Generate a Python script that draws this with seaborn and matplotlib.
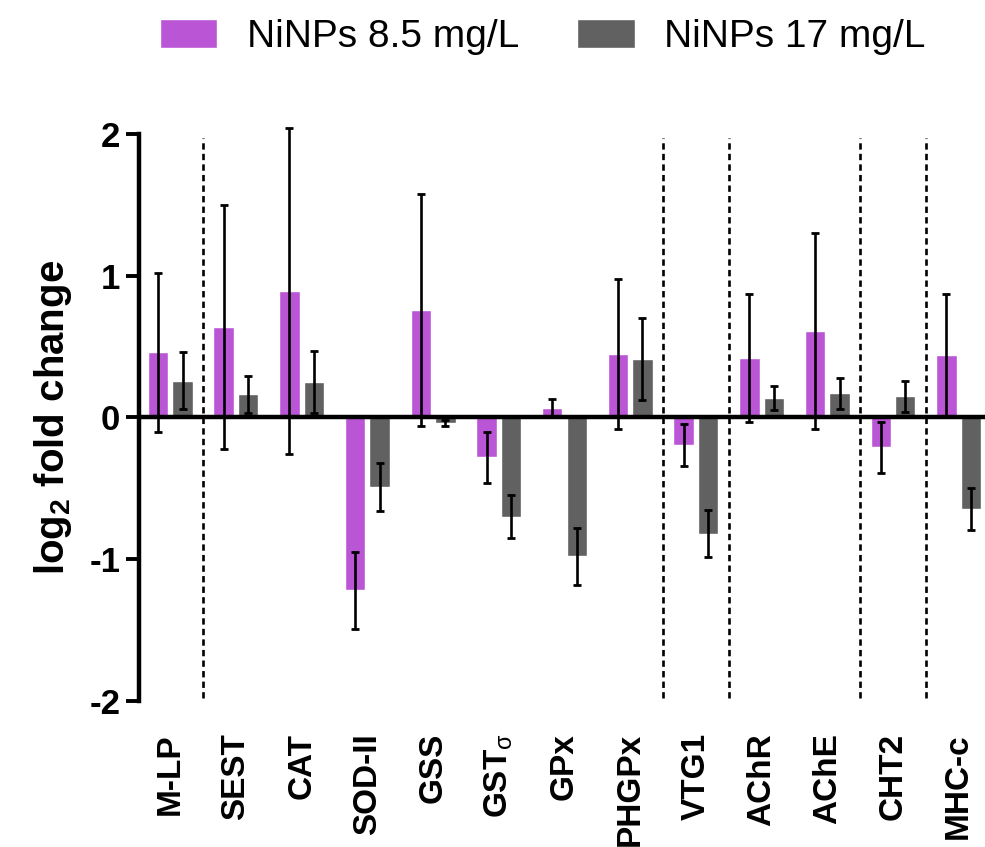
import matplotlib
matplotlib.use("Agg")
import matplotlib.pyplot as plt
import seaborn as sns
import pandas as pd

# Gene labels along the x axis
genes = ["M-LP", "SEST", "CAT", "SOD-II", "GSS", r"GST$_\mathrm{σ}$", "GPx",
         "PHGPx", "VTG1", "AChR", "AChE", "CHT2", "MHC-c"]

# Treatments
treatments = ["NiNPs 8.5 mg/L", "NiNPs 17 mg/L"]

# log2 fold change and error for each treatment
low_dose = [0.46, 0.64, 0.89, -1.22, 0.76, -0.28, 0.07, 0.45, -0.195, 0.42, 0.61, -0.21, 0.44]
low_dose_err = [0.56, 0.86, 1.15, 0.27, 0.82, 0.18, 0.06, 0.53, 0.15, 0.45, 0.69, 0.18, 0.43]
high_dose = [0.26, 0.165, 0.25, -0.49, -0.04, -0.70, -0.98, 0.41, -0.82, 0.14, 0.17, 0.15, -0.645]
high_dose_err = [0.20, 0.13, 0.22, 0.167, 0.02, 0.15, 0.20, 0.29, 0.165, 0.085, 0.11, 0.11, 0.15]

# Group separators (between gene families)
separators = [0.5, 7.5, 8.5, 10.5, 11.5]

yticks = [2, 1, 0, -1, -2]
ytick_labels = ["2", "1", "0", "-1", "-2"]

palette = ["#BA56D5", "#616161"]

sns.set_style("white")
plt.rcParams["font.family"] = ["Liberation Sans", "DejaVu Sans"]
plt.rcParams["mathtext.fontset"] = "custom"
plt.rcParams["mathtext.rm"] = "Liberation Sans"
plt.rcParams["mathtext.bf"] = "Liberation Sans:bold"
plt.rcParams["mathtext.it"] = "Liberation Sans:italic"
for key in ["text.color", "axes.labelcolor", "xtick.color", "ytick.color"]:
    plt.rcParams[key] = "black"

df = pd.DataFrame({
    "gene": genes * 2,
    "treatment": [treatments[0]] * len(genes) + [treatments[1]] * len(genes),
    "value": low_dose + high_dose,
})
errors = [low_dose_err, high_dose_err]
values = [low_dose, high_dose]

fig = plt.figure(figsize=(9.85, 8.47), dpi=100)
ax = fig.add_axes([0.1411, 0.1724, 0.8589, 0.6694])

sns.barplot(data=df, x="gene", y="value", hue="treatment", order=genes,
            hue_order=treatments, palette=palette, saturation=1,
            width=0.746, gap=0.165, errorbar=None, ax=ax, zorder=2)

# Error bars centred on each bar
for cont, vals, errs in zip(ax.containers, values, errors):
    xs = [p.get_x() + p.get_width() / 2 for p in cont.patches]
    eb = ax.errorbar(xs, vals, yerr=errs, fmt="none", ecolor="black",
                     elinewidth=1.9, capsize=3.2, capthick=2.0, zorder=4)
    for art in list(eb.lines[1]) + list(eb.lines[2]):
        art.set_clip_on(False)

# Dashed separators between gene families
for s in separators:
    ax.plot([s, s], [-1.98, 1.97], color="black", lw=1.9,
            linestyle=(0, (2.4, 1.6)), zorder=1)

ax.axhline(0, color="black", lw=3.2, zorder=3)

ax.set_xlim(-0.476, 12.4)
ax.set_ylim(-2, 2)
ax.set_yticks(yticks)
ax.set_yticklabels(ytick_labels, fontsize=25, fontweight="bold")
ax.set_xticks(range(len(genes)))
ax.set_xticklabels(genes, rotation=90, fontsize=24, fontweight="bold",
                   va="top", ha="center")
ax.tick_params(axis="x", length=0, pad=23)
ax.tick_params(axis="y", length=9.5, width=2.8, pad=4, color="black",
               left=True, direction="out")

for side in ["top", "right", "bottom"]:
    ax.spines[side].set_visible(False)
ax.spines["left"].set_linewidth(3.2)
ax.spines["left"].set_color("black")
ax.spines["left"].set_bounds(-2, 2)

ax.set_xlabel("")
ax.set_ylabel(r"log$_\mathbf{2}$ fold change", fontsize=29, fontweight="bold",
              labelpad=11)

handles, labels = ax.get_legend_handles_labels()
if ax.get_legend() is not None:
    ax.get_legend().remove()
fig.legend(handles, labels, loc="center", bbox_to_anchor=(0.551, 0.956),
           ncol=2, frameon=False, fontsize=28, handlelength=1.47,
           handleheight=0.77, handletextpad=0.77, columnspacing=1.5)

fig.savefig("out.png", dpi=100)
